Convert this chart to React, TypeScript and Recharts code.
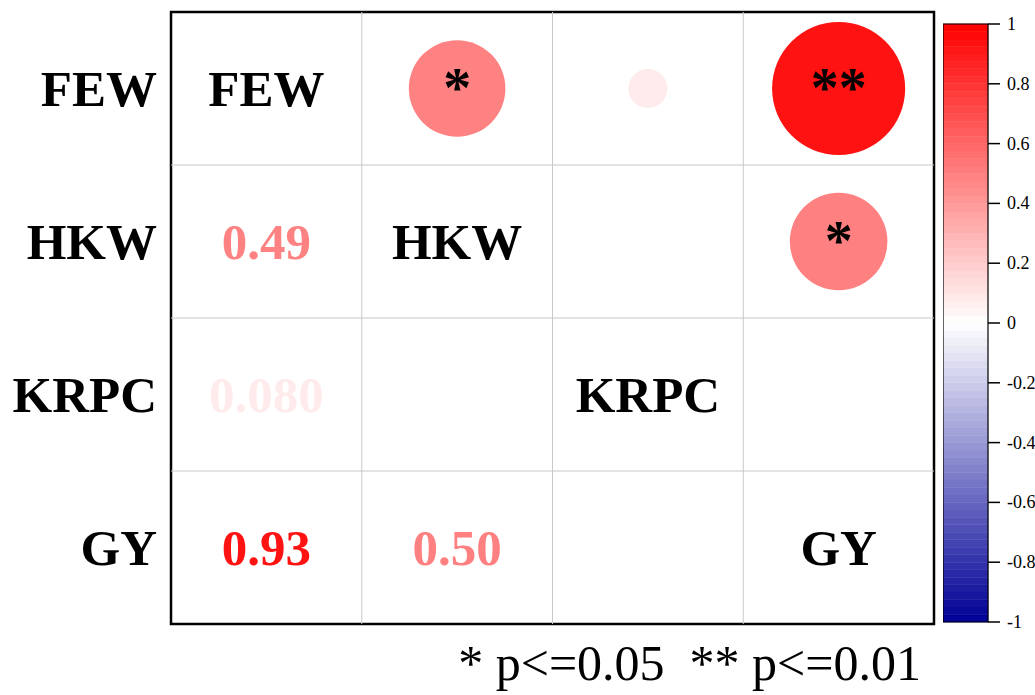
import React from 'react';
import {
  ScatterChart,
  Scatter,
  XAxis,
  YAxis,
  ZAxis,
  ReferenceLine,
  ReferenceArea,
  Customized,
} from 'recharts';

// Trait names, in matrix order (rows top→bottom, columns left→right)
const traits = ['FEW', 'HKW', 'KRPC', 'GY'];

// Correlated pairs: row index, column index (lower triangle), r and significance marks
const pairRow = [1, 2, 3, 3];
const pairCol = [0, 0, 0, 1];
const pairR = [0.49, 0.08, 0.93, 0.5];
const pairStars = ['*', '', '**', '*'];

// Colour bar ticks
const barTicks = [1, 0.8, 0.6, 0.4, 0.2, 0, -0.2, -0.4, -0.6, -0.8, -1];
const barTickLabels = ['1', '0.8', '0.6', '0.4', '0.2', '0', '-0.2', '-0.4', '-0.6', '-0.8', '-1'];

const legendText = '* p<=0.05  ** p<=0.01';

const FONT = '"Liberation Serif", "Times New Roman", serif';
const MAX_RADIUS = 69;

function corrColor(v: number): string {
  const t = Math.min(1, Math.abs(v));
  if (v >= 0) {
    const c = Math.round(255 * (1 - t));
    return `rgb(255,${c},${c})`;
  }
  const c = Math.round(255 * (1 - t));
  const b = Math.round(255 - (255 - 150) * t);
  return `rgb(${c},${c},${b})`;
}

// Upper triangle: circles (area ∝ |r|)
const circleData = pairR.map((r, i) => ({
  x: pairRow[i] + 0.5,
  y: pairCol[i] + 0.5,
  z: Math.abs(r),
  r,
  stars: pairStars[i],
}));

// Lower triangle: coefficient values
const valueData = pairR.map((r, i) => ({
  x: pairCol[i] + 0.5,
  y: pairRow[i] + 0.5,
  r,
}));

// Diagonal: trait names
const diagData = traits.map((name, i) => ({ x: i + 0.5, y: i + 0.5, name }));

// Colour bar bands
const bandStep = 0.025;
const bands: { x: number; y: number; y1: number; y2: number; v: number }[] = [];
for (let k = 0; k < 80; k++) {
  const y1 = -1 + k * bandStep;
  const y2 = y1 + bandStep;
  bands.push({ x: 0.5, y: (y1 + y2) / 2, y1, y2, v: (y1 + y2) / 2 });
}

const TEXT_SHIFT = 17;

const CircleShape = (props: any) => {
  const { cx, cy, size, payload } = props;
  const area = typeof size === 'number' ? size : Math.PI * MAX_RADIUS * MAX_RADIUS * payload.z;
  const rad = Math.sqrt(area / Math.PI);
  return (
    <g>
      <circle cx={cx} cy={cy} r={rad} fill={corrColor(payload.r)} />
      {payload.stars ? (
        <text
          x={cx}
          y={cy + TEXT_SHIFT + 1}
          textAnchor="middle"
          fontFamily={FONT}
          fontWeight="bold"
          fontSize={56}
          fill="#000"
        >
          {payload.stars}
        </text>
      ) : null}
    </g>
  );
};

const ValueShape = (props: any) => {
  const { cx, cy, payload } = props;
  return (
    <text
      x={cx}
      y={cy + TEXT_SHIFT}
      textAnchor="middle"
      fontFamily={FONT}
      fontWeight="bold"
      fontSize={51}
      fill={corrColor(payload.r)}
    >
      {payload.r.toPrecision(2)}
    </text>
  );
};

const DiagShape = (props: any) => {
  const { cx, cy, payload } = props;
  return (
    <text
      x={cx}
      y={cy + TEXT_SHIFT}
      textAnchor="middle"
      fontFamily={FONT}
      fontWeight="bold"
      fontSize={51}
      fill="#000"
    >
      {payload.name}
    </text>
  );
};

const RowTick = (props: any) => {
  const { x, y, payload } = props;
  const idx = Math.floor(payload.value);
  return (
    <text
      x={x}
      y={y + TEXT_SHIFT}
      textAnchor="end"
      fontFamily={FONT}
      fontWeight="bold"
      fontSize={51}
      fill="#000"
    >
      {traits[idx]}
    </text>
  );
};

const BarTick = (props: any) => {
  const { x, y, payload, index } = props;
  return (
    <text x={x} y={y + 6} textAnchor="start" fontFamily={FONT} fontSize={18} fill="#000">
      {barTickLabels[index] ?? String(payload.value)}
    </text>
  );
};

const Legend = () => (
  <text
    x={921}
    y={680}
    textAnchor="end"
    fontFamily={FONT}
    fontSize={50}
    fill="#000"
    style={{ whiteSpace: 'pre' }}
  >
    {legendText}
  </text>
);

const BandShape = () => null;

export default function App() {
  return (
    <div style={{ position: 'absolute', left: 0, top: 0, width: 1035, height: 695, background: '#fff' }}>
      <div style={{ position: 'absolute', left: 0, top: 0 }}>
        <ScatterChart width={1035} height={695} margin={{ top: 12, right: 101, bottom: 71, left: 0 }}>
          <XAxis type="number" dataKey="x" domain={[0, 4]} hide />
          <YAxis
            type="number"
            dataKey="y"
            domain={[0, 4]}
            reversed
            width={171}
            ticks={[0.5, 1.5, 2.5, 3.5]}
            interval={0}
            axisLine={false}
            tickLine={false}
            tickSize={0}
            tickMargin={14}
            tick={<RowTick />}
          />
          <ZAxis type="number" dataKey="z" domain={[0, 1]} range={[0, Math.PI * MAX_RADIUS * MAX_RADIUS]} />
          {[1, 2, 3].map((v) => (
            <ReferenceLine key={`vx${v}`} x={v} stroke="#c8c8c8" strokeWidth={1} />
          ))}
          {[1, 2, 3].map((v) => (
            <ReferenceLine key={`hy${v}`} y={v} stroke="#c8c8c8" strokeWidth={1} />
          ))}
          <Scatter data={circleData} shape={<CircleShape />} isAnimationActive={false} />
          <Scatter data={valueData} shape={<ValueShape />} isAnimationActive={false} />
          <Scatter data={diagData} shape={<DiagShape />} isAnimationActive={false} />
          <ReferenceArea
            x1={0}
            x2={4}
            y1={0}
            y2={4}
            fill="none"
            fillOpacity={0}
            stroke="#000"
            strokeWidth={2.5}
            ifOverflow="visible"
          />
          <Customized component={Legend} />
        </ScatterChart>
      </div>
      <div style={{ position: 'absolute', left: 943, top: 0 }}>
        <ScatterChart width={92} height={695} margin={{ top: 24, right: 0, bottom: 73, left: 0 }}>
          <XAxis type="number" dataKey="x" domain={[0, 1]} hide />
          <YAxis
            orientation="right"
            type="number"
            dataKey="y"
            domain={[-1, 1]}
            ticks={barTicks}
            interval={0}
            width={47}
            axisLine={false}
            tickSize={12}
            tickMargin={7}
            tickLine={{ stroke: '#000', strokeWidth: 1.5 }}
            tick={<BarTick />}
          />
          {bands.map((b, i) => (
            <ReferenceArea
              key={i}
              x1={0}
              x2={1}
              y1={b.y1}
              y2={b.y2}
              fill={corrColor(b.v)}
              fillOpacity={1}
              stroke={corrColor(b.v)}
              strokeWidth={0.5}
              ifOverflow="visible"
            />
          ))}
          <ReferenceArea
            x1={0}
            x2={1}
            y1={-1}
            y2={1}
            fill="none"
            fillOpacity={0}
            stroke="#000"
            strokeWidth={1.2}
            ifOverflow="visible"
          />
          <Scatter data={bands} shape={<BandShape />} isAnimationActive={false} />
        </ScatterChart>
      </div>
    </div>
  );
}
